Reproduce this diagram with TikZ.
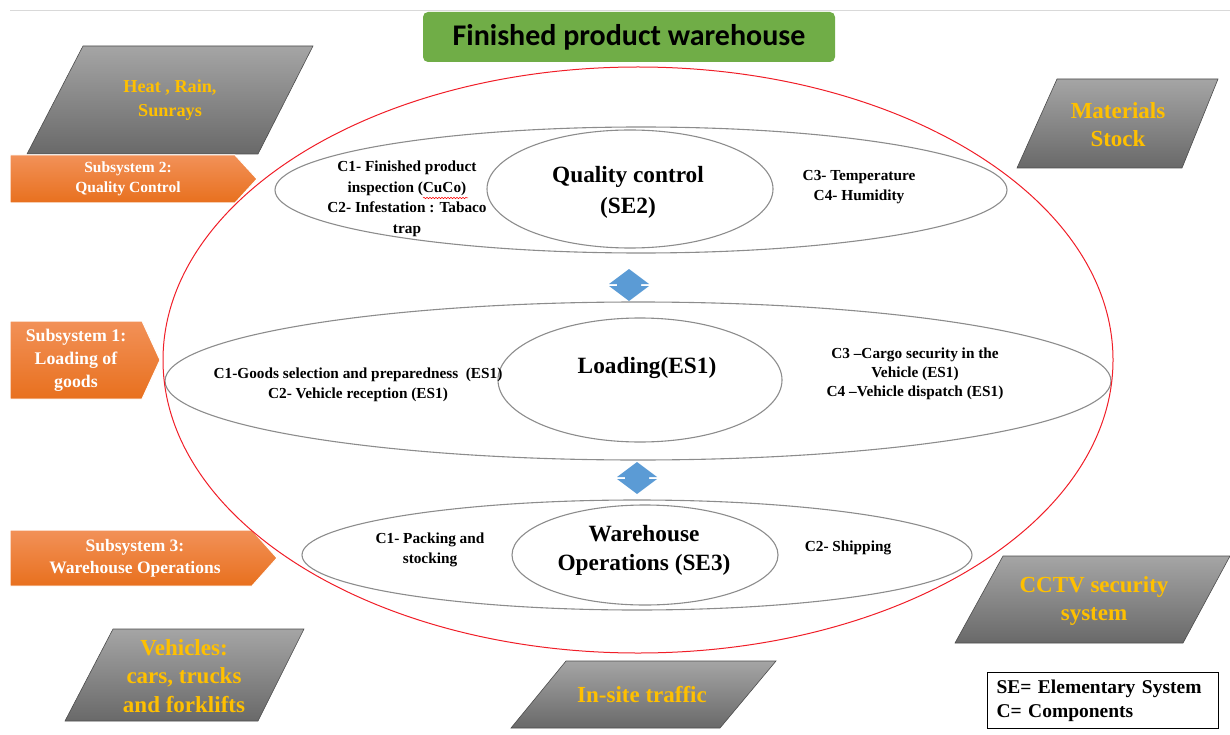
\documentclass[tikz,border=0pt]{standalone}
\usepackage{fontspec}
\setmainfont{Liberation Serif}
\newfontfamily\titlefont{Carlito}
\usetikzlibrary{shapes.geometric,decorations.pathmorphing}

\definecolor{titlegreen}{RGB}{112,173,71}
\definecolor{ringred}{RGB}{240,30,40}
\definecolor{ellgray}{RGB}{140,140,140}
\definecolor{diamblue}{RGB}{91,155,213}
\definecolor{orangetop}{RGB}{242,145,88}
\definecolor{orangebot}{RGB}{232,112,30}
\definecolor{paratop}{RGB}{165,165,165}
\definecolor{parabot}{RGB}{105,105,105}
\definecolor{gold}{RGB}{255,192,0}

\begin{document}
\begin{tikzpicture}[x=1pt,y=-1pt,
  ell/.style={ellipse, draw=ellgray, line width=1.1pt, inner sep=0pt},
  comp/.style={font=\bfseries\fontsize{15.3}{20.5}\selectfont, align=center, inner sep=0pt},
  core/.style={font=\bfseries\fontsize{23.3}{31}\selectfont, align=center, inner sep=0pt},
  subarrow/.style={top color=orangetop, bottom color=orangebot, draw=white, line width=1pt},
  subtext/.style={font=\bfseries, text=white, align=center, inner sep=0pt},
  para/.style={top color=paratop, bottom color=parabot, draw=black!70, line width=0.6pt},
  paratext/.style={font=\bfseries, text=gold, align=center, inner sep=0pt},
  updown/.style={fill=diamblue}
]
\useasboundingbox (0,0) rectangle (1230,735);

% thin rule along the top
\draw[black!15, line width=0.8pt] (10,10) -- (1230,10);

% title banner
\node[fill=titlegreen, rounded corners=5pt, minimum width=412pt, minimum height=50pt,
      inner sep=0pt, font=\titlefont\bfseries\fontsize{30}{34}\selectfont]
      (title) at (629,37) {Finished product warehouse};

% environment factors (grey parallelograms)
\shadedraw[para] (83,46) -- (313,46) -- (258,154) -- (27,154) -- cycle;
\node[paratext, font=\bfseries\fontsize{18.2}{24}\selectfont] (heat) at (170,100) {Heat , Rain,\\Sunrays};

\shadedraw[para] (1057,79) -- (1218,79) -- (1182,168) -- (1017,168) -- cycle;
\node[paratext, font=\bfseries\fontsize{23}{28}\selectfont] (stock) at (1118,125) {Materials\\Stock};

\shadedraw[para] (1003,556) -- (1230,556) -- (1183,643) -- (955,643) -- cycle;
\node[paratext, font=\bfseries\fontsize{23}{28}\selectfont] (cctv) at (1094,601) {CCTV security\\system};

\shadedraw[para] (113,629) -- (304,629) -- (258,721) -- (65,721) -- cycle;
\node[paratext, font=\bfseries\fontsize{23}{28.5}\selectfont] (vehicles) at (184,676) {Vehicles:\\cars, trucks\\and forklifts};

\shadedraw[para] (566,661) -- (776,661) -- (720,728) -- (511,728) -- cycle;
\node[paratext, font=\bfseries\fontsize{23}{26}\selectfont] (traffic) at (642,695) {In-site traffic};

% subsystem labels (orange arrows)
\shadedraw[subarrow] (10,155) -- (235,155) -- (257,179) -- (235,203) -- (10,203) -- cycle;
\node[subtext, font=\bfseries\fontsize{15.5}{20}\selectfont] (sub2) at (128,179) {Subsystem 2:\\Quality Control};

\shadedraw[subarrow] (10,321) -- (142,321) -- (160,360) -- (142,399) -- (10,399) -- cycle;
\node[subtext, font=\bfseries\fontsize{17.8}{23}\selectfont] (sub1) at (76,360) {Subsystem 1:\\Loading of\\goods};

\shadedraw[subarrow] (10,530) -- (252,530) -- (277,558) -- (252,586) -- (10,586) -- cycle;
\node[subtext, font=\bfseries\fontsize{17.5}{22}\selectfont] (sub3) at (135,558) {Subsystem 3:\\Warehouse Operations};

% subsystem rings and elementary systems
\node[ell, minimum width=732pt, minimum height=126pt] (qcring) at (641,190) {};
\node[ell, minimum width=286pt, minimum height=118pt] (qc) at (630,189) {};
\node[ell, minimum width=946pt, minimum height=158pt] (loadring) at (638,381) {};
\node[ell, minimum width=284pt, minimum height=124pt] (load) at (640,380) {};
\node[ell, minimum width=670pt, minimum height=110pt] (opsring) at (637,555) {};
\node[ell, minimum width=266pt, minimum height=100pt] (ops) at (645,555) {};

% warehouse boundary
\node[ellipse, draw=ringred, line width=1pt, inner sep=0pt,
      minimum width=950pt, minimum height=586pt] (system) at (638,360) {};

% quality control texts
\node[comp] (qcleft) at (407,199) {C1- Finished product\\inspection (CuCo)\\C2- Infestation : Tabaco\\trap};
\draw[red, line width=0.5pt, decorate, decoration={snake, amplitude=0.7pt, segment length=3pt}]
  (423,198) -- (468,198);
\node[core] (qctext) at (628,192) {Quality control\\(SE2)};
\node[comp] (qcright) at (859,187) {C3- Temperature\\C4- Humidity};

% loading texts
\node[comp] (loadleft) at (358,385) {C1-Goods selection and preparedness~~(ES1)\\C2- Vehicle reception (ES1)};
\node[core] (loadtext) at (647,368) {Loading(ES1)};
\node[comp, font=\bfseries\fontsize{15.3}{19}\selectfont] (loadright) at (915,374) {C3 --Cargo security in the\\Vehicle (ES1)\\C4 --Vehicle dispatch (ES1)};

% warehouse operations texts
\node[comp] (opsleft) at (430,550) {C1- Packing and\\stocking};
\node[core, font=\bfseries\fontsize{23.3}{29}\selectfont] (opstext) at (644,550) {Warehouse\\Operations (SE3)};
\node[comp] (opsright) at (848,548) {C2- Shipping};

% up-down links between subsystems
\begin{scope}[shift={(629,285)}]
  \fill[updown] (0,-16) -- (20,-1) -- (12,-1) -- (12,1) -- (20,1) -- (0,16)
    -- (-20,1) -- (-12,1) -- (-12,-1) -- (-20,-1) -- cycle;
\end{scope}
\begin{scope}[shift={(637,478)}]
  \fill[updown] (0,-16) -- (20,-1) -- (12,-1) -- (12,1) -- (20,1) -- (0,16)
    -- (-20,1) -- (-12,1) -- (-12,-1) -- (-20,-1) -- cycle;
\end{scope}

% legend
\node[draw=black, line width=1pt, align=left, anchor=north west, inner sep=0pt,
      text width=213pt, minimum height=56pt, inner xsep=9pt,
      font=\bfseries\fontsize{19.5}{24}\selectfont] (legend) at (987,672)
      {SE= Elementary System\\C= Components};
\end{tikzpicture}
\end{document}
